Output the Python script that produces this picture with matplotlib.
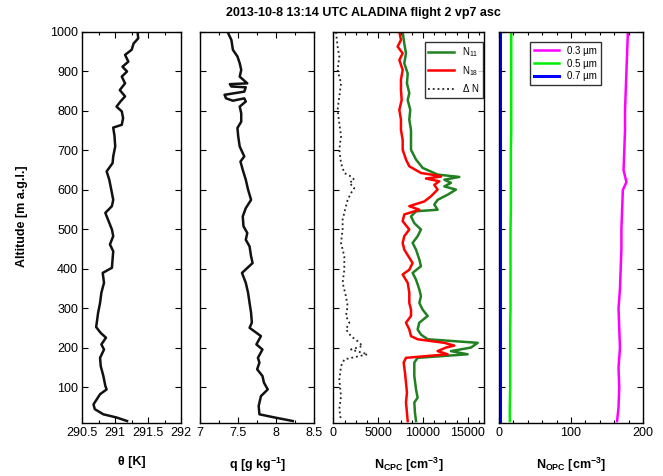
import matplotlib
matplotlib.use("Agg")
import matplotlib.pyplot as plt
from matplotlib.ticker import MultipleLocator

plt.rcParams['font.family'] = ['Liberation Sans', 'DejaVu Sans']
plt.rcParams['mathtext.fontset'] = 'custom'
plt.rcParams['mathtext.rm'] = 'Liberation Sans'
plt.rcParams['mathtext.bf'] = 'Liberation Sans:bold'
plt.rcParams['mathtext.it'] = 'Liberation Sans:italic'

# potential temperature profile
alt_theta = [1000, 984, 971, 955, 942, 925, 912, 900, 887, 870, 853, 837, 824, 811, 799, 782, 765, 758, 736, 710,
             685, 668, 647, 626, 601, 575, 559, 542, 521, 500, 483, 462, 445, 424, 403, 390, 365, 340, 314, 289,
             264, 253, 238, 226, 209, 196, 175, 154, 129, 104, 95, 83, 70, 57, 45, 32, 24, 15]
theta = [291.34, 291.35, 291.28, 291.25, 291.15, 291.20, 291.11, 291.18, 291.10, 291.15,
         291.07, 291.15, 291.08, 291.02, 291.10, 291.12, 291.10, 290.97, 290.99, 291.00,
         290.97, 290.96, 290.87, 290.91, 290.94, 290.97, 290.95, 290.85, 290.90, 290.95,
         290.97, 290.92, 290.97, 290.96, 290.95, 290.81, 290.83, 290.79, 290.77, 290.74,
         290.72, 290.71, 290.78, 290.86, 290.79, 290.83, 290.77, 290.78, 290.82, 290.85,
         290.87, 290.77, 290.72, 290.67, 290.69, 290.82, 291.02, 291.18]

# specific humidity profile
alt_q = [1000, 980, 955, 938, 921, 904, 887, 870, 868, 862, 860, 849, 841, 832, 826, 832, 824,
         811, 794, 773, 757, 736, 710, 685, 672, 651, 626, 601, 575, 554, 533, 508, 491, 474, 457,
         432, 415, 390, 365, 340, 314, 289, 264, 251, 230, 209, 196, 175, 163, 146, 129, 112, 95,
         78, 53, 32, 24, 15]
q = [7.36, 7.41, 7.43, 7.49, 7.52, 7.54, 7.52, 7.62, 7.39, 7.41, 7.60, 7.58, 7.32, 7.34, 7.43, 7.58, 7.60,
     7.52, 7.54, 7.54, 7.49, 7.50, 7.52, 7.58, 7.53, 7.56, 7.60, 7.63, 7.67, 7.60, 7.56, 7.57, 7.62, 7.60, 7.65,
     7.67, 7.69, 7.55, 7.60, 7.63, 7.65, 7.67, 7.68, 7.65, 7.80, 7.74, 7.82, 7.76, 7.78, 7.75, 7.82, 7.84, 7.89,
     7.80, 7.77, 7.78, 7.98, 8.22]

# CPC counts
alt_n18 = [1000, 980, 963, 946, 929, 904, 879, 853, 828, 803, 778, 752, 727, 702, 677, 660, 643, 637, 634,
           629, 622, 613, 601, 584, 571, 559, 550, 538, 521, 500, 483, 466, 449, 415, 398, 386, 365, 340,
           314, 297, 281, 264, 247, 230, 222, 213, 206, 201, 192, 184, 175, 163, 137, 112, 87, 62, 36, 15]
n18 = [7370, 7550, 7180, 7740, 7370, 7740, 7550, 7550, 7630, 7370, 7550, 7550, 7740, 7740, 8110, 8480, 9780,
       11500, 12020, 10340, 11830, 11270, 11640, 10900, 10160, 8480, 9600, 7920, 7740, 8480, 7920, 7740, 7920,
       8850, 8480, 7740, 8300, 8480, 8480, 8670, 8670, 8110, 8480, 8670, 9410, 12390, 13500, 12570, 11640,
       12760, 8110, 7850, 8000, 8110, 8220, 8110, 8220, 8300]

alt_n11 = [1000, 971, 946, 921, 895, 870, 845, 828, 803, 778, 752, 727, 702, 677, 656, 639, 633, 626, 618,
           609, 601, 588, 575, 563, 550, 546, 533, 516, 500, 483, 466, 449, 424, 407, 390, 373, 348, 331,
           314, 297, 281, 264, 247, 234, 222, 213, 201, 192, 184, 175, 163, 129, 95, 74, 62, 36, 15]
n11 = [7740, 7920, 8110, 7920, 8300, 8220, 8480, 8300, 8590, 8480, 8670, 8670, 8670, 9230, 9970, 11640,
       14060, 12390, 13130, 12390, 13690, 12760, 11640, 11270, 11640, 9230, 8670, 9040, 9780, 9410, 8850,
       9230, 9600, 9780, 8850, 9230, 9600, 9780, 9600, 9970, 10530, 9600, 9410, 9780, 10530, 16110, 15360,
       13130, 14990, 9410, 9040, 9040, 9230, 9410, 9040, 9110, 9230]

alt_dn = [1000, 963, 938, 904, 870, 837, 803, 769, 736, 702, 668, 643, 634, 626, 618, 605, 592, 575, 559,
          542, 525, 500, 466, 432, 398, 365, 331, 306, 281, 264, 247, 230, 217, 205, 196, 184, 171, 154,
          120, 78, 45, 15]
dn = [300, 480, 670, 480, 860, 670, 480, 670, 860, 670, 860, 1230, 1970, 2340, 1790, 2340, 1970, 1600, 1410,
      1230, 1040, 1040, 860, 1230, 1230, 1040, 1410, 1600, 1410, 1790, 1410, 1970, 2720, 3270, 1970, 3830,
      1230, 860, 670, 860, 670, 860]

# OPC counts
alt_opc = [15, 50, 100, 150, 200, 250, 300, 350, 400, 450, 500, 550, 600, 620, 650, 700, 750, 800, 850,
           900, 950, 1000]
n03 = [164, 166, 167, 166, 168, 167, 166, 168, 169, 170, 170, 171, 172, 177, 173, 174, 175, 175, 176,
       177, 178, 179]
n05 = [15, 15, 15.5, 15.5, 15.5, 15.5, 16, 16, 16, 16, 16, 16.5, 16.5, 16.5, 16.5, 16.5, 17, 17, 17,
       17, 17, 17]
n07 = [1.5] * len(alt_opc)

W, H = 663, 476
fig = plt.figure(figsize=(W / 100, H / 100), dpi=100)

bottom = 1 - 423 / H
height = (423 - 32) / H
lefts = [82.3, 200.3, 333.3, 499]
rights = [181, 314, 484.3, 643]
axes = [fig.add_axes([l / W, bottom, (r - l) / W, height]) for l, r in zip(lefts, rights)]

dkgreen = (0.13, 0.5, 0.13)

ax1, ax2, ax3, ax4 = axes
ax1.plot(theta, alt_theta, color='#111111', lw=1.8)
ax1.set_xlim(290.5, 292)
ax1.set_xticks([290.5, 291, 291.5, 292])
ax1.set_xticklabels(['290.5', '291', '291.5', '292'])
ax1.xaxis.set_minor_locator(MultipleLocator(0.25))

ax2.plot(q, alt_q, color='#111111', lw=1.8)
ax2.set_xlim(7, 8.5)
ax2.set_xticks([7, 7.5, 8, 8.5])
ax2.set_xticklabels(['7', '7.5', '8', '8.5'])
ax2.xaxis.set_minor_locator(MultipleLocator(0.25))

ax3.plot(n11, alt_n11, color=dkgreen, lw=1.8, label='N$_{11}$')
ax3.plot(n18, alt_n18, color='red', lw=1.8, label='N$_{18}$')
ax3.plot(dn, alt_dn, color='#222222', lw=1.3, ls=':', label='$\\Delta$ N')
ax3.set_xlim(0, 16850)
ax3.set_xticks([0, 5000, 10000, 15000])
ax3.xaxis.set_minor_locator(MultipleLocator(1250))
ax3.legend(loc='upper right', bbox_to_anchor=(0.99, 0.975), fontsize=7, frameon=True, fancybox=False,
           edgecolor='black', handlelength=2.6, borderaxespad=0, labelspacing=0.45).get_frame().set_linewidth(1)

ax4.plot(n03, alt_opc, color='#ff00ff', lw=1.8, label='0.3 µm')
ax4.plot(n05, alt_opc, color='#00ee00', lw=1.8, label='0.5 µm')
ax4.plot(n07, alt_opc, color='#0000ff', lw=2.2, label='0.7 µm')
ax4.set_xlim(0, 200)
ax4.set_xticks([0, 100, 200])
ax4.xaxis.set_minor_locator(MultipleLocator(20))
ax4.legend(loc='upper center', bbox_to_anchor=(0.46, 0.975), fontsize=7, frameon=True, fancybox=False,
           edgecolor='black', handlelength=2.6, borderaxespad=0, labelspacing=0.3).get_frame().set_linewidth(1)

for i, ax in enumerate(axes):
    ax.set_ylim(10, 1000)
    ax.set_yticks(range(100, 1001, 100))
    ax.tick_params(which='both', direction='in', top=True, right=True, labelsize=9, pad=3, width=0.8)
    ax.tick_params(which='major', length=4)
    ax.tick_params(which='minor', length=2.5)
    for s in ax.spines.values():
        s.set_linewidth(1)
    if i > 0:
        ax.set_yticklabels([])

ax1.set_ylabel('Altitude [m a.g.l.]', fontsize=9, fontweight='bold')
ax1.yaxis.set_label_coords(-0.55, 0.53)

xlabels = ['θ [K]', '$\\mathbf{q\\ [g\\ kg^{-1}]}$', '$\\mathbf{N_{CPC}\\ [cm^{-3}]}$',
           '$\\mathbf{N_{OPC}\\ [cm^{-3}]}$']
for ax, lab in zip(axes, xlabels):
    ax.set_xlabel(lab, fontsize=9, fontweight='bold')
    ax.xaxis.set_label_coords(0.5, -0.085)

fig.text(363 / W, 1 - 13 / H, '2013-10-8 13:14 UTC ALADINA flight 2 vp7 asc', ha='center', va='center',
         fontsize=9, fontweight='bold')

fig.savefig('out.png', dpi=100)
